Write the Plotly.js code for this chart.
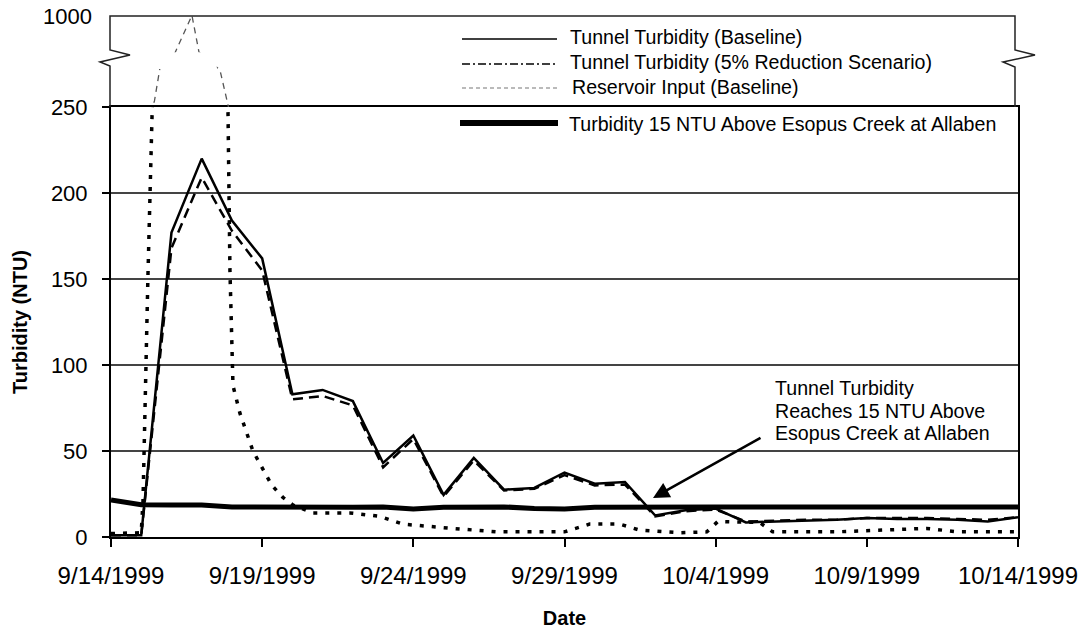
<!DOCTYPE html>
<html>
<head>
<meta charset="utf-8">
<script src="https://cdn.plot.ly/plotly-3.0.1.min.js"></script>
<style>html,body{margin:0;padding:0;background:#fff;}#chart{width:1081px;height:630px;}</style>
</head>
<body>
<div id="chart"></div>
<script>
// ---- data ----
const dates = ['1999-09-14','1999-09-15','1999-09-16','1999-09-17','1999-09-18','1999-09-19','1999-09-20','1999-09-21','1999-09-22','1999-09-23','1999-09-24','1999-09-25','1999-09-26','1999-09-27','1999-09-28','1999-09-29','1999-09-30','1999-10-01','1999-10-02','1999-10-03','1999-10-04','1999-10-05','1999-10-06','1999-10-07','1999-10-08','1999-10-09','1999-10-10','1999-10-11','1999-10-12','1999-10-13','1999-10-14'];
const tunnelBaseline = [1,1,177,220,184,162,83,85.5,79,43,59,24.5,46,27.5,28.5,37.5,31,32,12.5,15.5,16.5,8.5,9,9.5,10,11,10.5,10.5,10,9,11.5];
const tunnel5pct = [1,1,168,209,178,155,80,82,76.5,40.5,57,23.5,44.5,27,28,36,30,30.5,12,15,16,9,9.5,10,10,11,11,11,10.5,10,11.5];
const threshold15 = [21.5,18.8,18.6,18.6,17.5,17.3,17.3,17.3,17.3,17.5,16.3,17.3,17.5,17.5,16.5,16.3,17.3,17.5,17.5,17.5,17.5,17.5,17.5,17.5,17.5,17.5,17.5,17.5,17.5,17.5,17.5];
const resTimes = ['1999-09-14 00:00','1999-09-14 12:00','1999-09-15 00:00','1999-09-15 01:24','1999-09-15 05:20','1999-09-15 10:30','1999-09-15 14:50','1999-09-16 02:45','1999-09-16 16:15','1999-09-16 21:50','1999-09-17 14:30','1999-09-17 20:50','1999-09-17 22:25','1999-09-18 00:50','1999-09-18 06:20','1999-09-18 16:40','1999-09-19 07:45','1999-09-19 16:30','1999-09-20 00:25','1999-09-20 16:15','1999-09-21 21:30','1999-09-22 21:20','1999-09-23 15:35','1999-09-25 07:10','1999-09-26 18:15','1999-09-29 00:00','1999-09-29 20:00','1999-09-30 19:50','1999-10-01 11:45','1999-10-02 19:25','1999-10-03 17:00','1999-10-04 01:40','1999-10-05 10:50','1999-10-05 21:10','1999-10-08 00:00','1999-10-10 23:15','1999-10-12 00:00','1999-10-14 00:00'];
const reservoir = [2,2,2.5,21,152,300,571,695,1005,703,555,250,155,88,72,50,30,23,18.6,14,14,12,7.5,5,3,3,7.5,7.5,4,2.5,3,9,8.5,3,3,5,3,3];
const seriesNames = ['Tunnel Turbidity (Baseline)','Tunnel Turbidity (5% Reduction Scenario)','Reservoir Input (Baseline)','Turbidity 15 NTU Above Esopus Creek at Allaben'];
const lowerTicks = [0,50,100,150,200,250];
const upperTicks = [1000];
const noteLines = ['Tunnel Turbidity','Reaches 15 NTU Above','Esopus Creek at Allaben'];

// ---- layout helpers (pixel -> paper) ----
const L = 111, R = 1018, T = 16, B = 537;
const W = R - L, H = B - T;
const px = x => (x - L) / W;
const py = y => (B - y) / H;
const FONT = 'Liberation Sans, Arial, sans-serif';
const split = py(107);

const traces = [
  {x: resTimes, y: reservoir, type: 'scatter', mode: 'lines', yaxis: 'y', xaxis: 'x',
   line: {color: '#000', width: 3.5, dash: '4px,8px'}, hoverinfo: 'skip', name: seriesNames[2]},
  {x: resTimes, y: reservoir, type: 'scatter', mode: 'lines', yaxis: 'y2', xaxis: 'x',
   line: {color: '#555', width: 1.3, dash: '6px,5px'}, hoverinfo: 'skip', name: seriesNames[2]},
  {x: dates, y: threshold15, type: 'scatter', mode: 'lines', yaxis: 'y',
   line: {color: '#000', width: 5}, hoverinfo: 'skip', name: seriesNames[3]},
  {x: dates, y: tunnel5pct, type: 'scatter', mode: 'lines', yaxis: 'y',
   line: {color: '#000', width: 2.5, dash: '10px,6px'}, hoverinfo: 'skip', name: seriesNames[1]},
  {x: dates, y: tunnelBaseline, type: 'scatter', mode: 'lines', yaxis: 'y',
   line: {color: '#000', width: 2.5}, hoverinfo: 'skip', name: seriesNames[0]}
];

function pathOf(pts){ return 'M' + pts.map(p => px(p[0]).toFixed(5) + ',' + py(p[1]).toFixed(5)).join(' L'); }

const shapes = [
  // upper panel frame with axis-break zigzags
  {type: 'path', xref: 'paper', yref: 'paper', line: {color: '#222', width: 1.5},
   path: pathOf([[110,107],[110,66],[100,62],[130,55],[110,50],[110,16],[1015,16],[1015,50],[1035,55],[1003,62],[1015,67],[1015,107]])},
  // gap in the upper reservoir line at the break
  {type: 'rect', xref: 'x', yref: 'y2', x0: '1999-09-15 12:00', x1: '1999-09-17 12:00', y0: 563, y1: 702,
   fillcolor: '#fff', line: {width: 0}, layer: 'above'},
  // legend samples
  {type: 'line', xref: 'paper', yref: 'paper', x0: px(462), x1: px(557), y0: py(39), y1: py(39), line: {color: '#000', width: 1.5}},
  {type: 'line', xref: 'paper', yref: 'paper', x0: px(462), x1: px(557), y0: py(64), y1: py(64), line: {color: '#000', width: 1.3, dash: '8px,3px,2px,3px'}},
  {type: 'line', xref: 'paper', yref: 'paper', x0: px(462), x1: px(557), y0: py(88), y1: py(88), line: {color: '#777', width: 1.2, dash: '4px,3px'}},
  {type: 'line', xref: 'paper', yref: 'paper', x0: px(460), x1: px(558), y0: py(123), y1: py(123), line: {color: '#000', width: 6}}
];

const legendY = [37, 62, 87, 124];
const legendX = [568, 568, 570, 567];
const annotations = [];
seriesNames.forEach((t, i) => annotations.push({
  xref: 'paper', yref: 'paper', x: px(legendX[i]), y: py(legendY[i]), xanchor: 'left', yanchor: 'middle',
  text: t, showarrow: false, font: {family: FONT, size: 19.6, color: '#000'}
}));
const noteY = [388, 411, 433];
noteLines.forEach((t, i) => annotations.push({
  xref: 'paper', yref: 'paper', x: px(773), y: py(noteY[i]), xanchor: 'left', yanchor: 'middle',
  text: t, showarrow: false, font: {family: FONT, size: 19.6, color: '#000'}
}));
annotations.push({
  xref: 'paper', yref: 'paper', x: px(653), y: py(498), text: '', showarrow: true,
  axref: 'pixel', ayref: 'pixel', ax: 109, ay: -61,
  arrowhead: 2, arrowsize: 1.3, arrowwidth: 2.5, arrowcolor: '#000', standoff: 0
});

const layout = {
  width: 1081, height: 630,
  margin: {l: L, r: 1081 - R, t: T, b: 630 - B},
  paper_bgcolor: '#fff', plot_bgcolor: 'rgba(0,0,0,0)',
  showlegend: false,
  font: {family: FONT, color: '#000'},
  xaxis: {
    type: 'date', range: ['1999-09-14', '1999-10-14'], tick0: '1999-09-14', dtick: 5 * 86400000,
    tickformat: '%-m/%-d/%Y', ticks: 'outside', ticklen: 8, tickwidth: 2, tickcolor: '#000',
    showline: true, linewidth: 2, linecolor: '#000', mirror: true, showgrid: false, zeroline: false,
    tickfont: {family: FONT, size: 24, color: '#000'}, ticklabelstandoff: 8, automargin: false,
    title: {text: 'Date', font: {family: FONT, size: 20, weight: 'bold', color: '#000'}, standoff: 23},
    anchor: 'y'
  },
  yaxis: {
    domain: [0, split], range: [0, 250], tickvals: lowerTicks, ticktext: lowerTicks.map(String),
    ticks: 'outside', ticklen: 7, tickwidth: 2, tickcolor: '#000',
    showline: true, linewidth: 2, linecolor: '#000', mirror: true,
    showgrid: true, gridcolor: '#444', gridwidth: 1.5, zeroline: false,
    tickfont: {family: FONT, size: 22, color: '#000'}, ticklabelstandoff: 10, automargin: false,
    title: {text: 'Turbidity (NTU)', font: {family: FONT, size: 20, weight: 'bold', color: '#000'}, standoff: 18},
    anchor: 'x'
  },
  yaxis2: {
    domain: [split, 1], range: [250, 1000], tickvals: upperTicks, ticktext: upperTicks.map(String),
    ticks: '', showline: false, showgrid: false, zeroline: false,
    tickfont: {family: FONT, size: 22, color: '#000'}, ticklabelstandoff: 18, automargin: false,
    anchor: 'x'
  },
  shapes: shapes,
  annotations: annotations
};

Plotly.newPlot('chart', traces, layout, {displayModeBar: false, staticPlot: true});
</script>
</body>
</html>
